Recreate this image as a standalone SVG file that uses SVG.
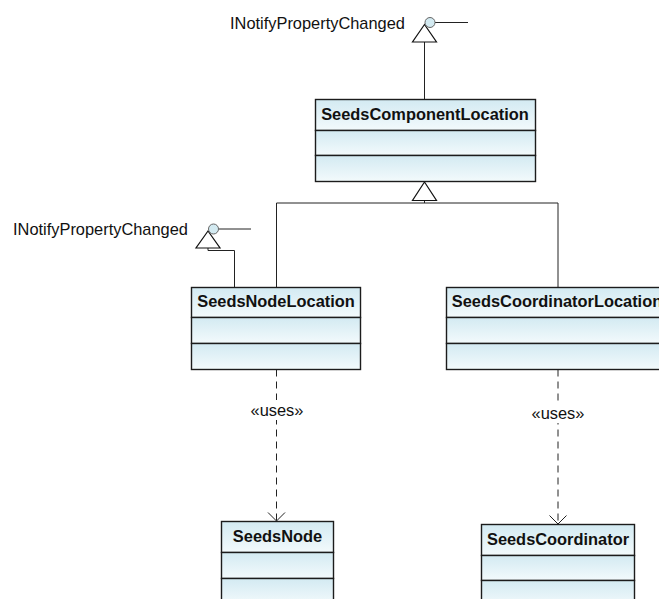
<svg xmlns="http://www.w3.org/2000/svg" width="659" height="599" viewBox="0 0 659 599">
  <defs>
    <linearGradient id="cmpFill" x1="0" y1="0" x2="0" y2="1">
      <stop offset="0" stop-color="#d3eaf2"/>
      <stop offset="1" stop-color="#f3fafc"/>
    </linearGradient>
    <style>
      .cmp { fill: url(#cmpFill); stroke: #1c1c1c; stroke-width: 1.4; }
      .cls { font-family: "Liberation Sans", Arial, sans-serif; font-size: 16.4px; font-weight: bold; fill: #111; text-anchor: middle; }
      .lbl { font-family: "Liberation Sans", Arial, sans-serif; font-size: 16.4px; fill: #111; }
      .line { fill: none; stroke: #222; stroke-width: 1; }
      .dash { fill: none; stroke: #222; stroke-width: 1; stroke-dasharray: 7 5; }
      .tri { fill: #fff; stroke: #111; stroke-width: 1.2; stroke-linejoin: miter; }
      .open { fill: none; stroke: #222; stroke-width: 1; }
      .ball { fill: #d3eaf1; stroke: #666; stroke-width: 1; }
    </style>
  </defs>

  <rect width="659" height="599" fill="#fff"/>

  <!-- connectors -->
  <g id="connectors">
    <!-- SeedsComponentLocation realizes INotifyPropertyChanged -->
    <line class="line" x1="424.5" y1="42" x2="424.5" y2="99.5"/>
    <polygon class="tri" points="424.5,24.5 412.5,42 436.5,42"/>

    <!-- SeedsNodeLocation realizes INotifyPropertyChanged -->
    <polyline class="line" points="208,248 208,250.5 234.5,250.5 234.5,287.5"/>
    <polygon class="tri" points="208,231 196,248 220,248"/>

    <!-- generalization tree to SeedsComponentLocation -->
    <polyline class="line" points="276.5,287.5 276.5,203 558,203 558,287.5"/>
    <line class="line" x1="424.5" y1="200.5" x2="424.5" y2="203"/>
    <polygon class="tri" points="424.5,182 412.5,200.5 436.5,200.5"/>

    <!-- SeedsNodeLocation uses SeedsNode -->
    <line class="dash" x1="276.5" y1="369.5" x2="276.5" y2="521"/>
    <polyline class="open" points="268,512.5 276.5,521 285,512.5"/>
    <rect x="248" y="400" width="58" height="20" fill="#fff"/>
    <text class="lbl" x="277" y="416" text-anchor="middle">«uses»</text>

    <!-- SeedsCoordinatorLocation uses SeedsCoordinator -->
    <line class="dash" x1="558" y1="369.5" x2="558" y2="524"/>
    <polyline class="open" points="549.5,515.5 558,524 566.5,515.5"/>
    <rect x="529" y="403" width="58" height="20" fill="#fff"/>
    <text class="lbl" x="558" y="419" text-anchor="middle">«uses»</text>
  </g>

  <!-- interface lollipops -->
  <g id="iface-top">
    <line class="line" x1="435" y1="22.5" x2="468" y2="22.5"/>
    <circle class="ball" cx="430" cy="22.5" r="5"/>
    <text class="lbl" x="230" y="29">INotifyPropertyChanged</text>
  </g>

  <g id="iface-left">
    <line class="line" x1="218.5" y1="229" x2="251" y2="229"/>
    <circle class="ball" cx="213.5" cy="229" r="5"/>
    <text class="lbl" x="13" y="235">INotifyPropertyChanged</text>
  </g>

  <!-- classes -->
  <g id="SeedsComponentLocation">
    <rect class="cmp" x="315.5" y="99.5" width="220" height="31"/>
    <rect class="cmp" x="315.5" y="130.5" width="220" height="25"/>
    <rect class="cmp" x="315.5" y="155.5" width="220" height="26"/>
    <text class="cls" x="425" y="120">SeedsComponentLocation</text>
  </g>

  <g id="SeedsNodeLocation">
    <rect class="cmp" x="191.5" y="287.5" width="169" height="30"/>
    <rect class="cmp" x="191.5" y="317.5" width="169" height="26"/>
    <rect class="cmp" x="191.5" y="343.5" width="169" height="26"/>
    <text class="cls" x="276" y="307">SeedsNodeLocation</text>
  </g>

  <g id="SeedsCoordinatorLocation">
    <rect class="cmp" x="446.5" y="287.5" width="221" height="30"/>
    <rect class="cmp" x="446.5" y="317.5" width="221" height="26"/>
    <rect class="cmp" x="446.5" y="343.5" width="221" height="26"/>
    <text class="cls" x="557" y="307">SeedsCoordinatorLocation</text>
  </g>

  <g id="SeedsNode">
    <rect class="cmp" x="221.5" y="521.5" width="112" height="31"/>
    <rect class="cmp" x="221.5" y="552.5" width="112" height="26"/>
    <rect class="cmp" x="221.5" y="578.5" width="112" height="26"/>
    <text class="cls" x="277.5" y="542">SeedsNode</text>
  </g>

  <g id="SeedsCoordinator">
    <rect class="cmp" x="481.5" y="524.5" width="153" height="31"/>
    <rect class="cmp" x="481.5" y="555.5" width="153" height="25"/>
    <rect class="cmp" x="481.5" y="580.5" width="153" height="26"/>
    <text class="cls" x="558" y="545">SeedsCoordinator</text>
  </g>
</svg>
